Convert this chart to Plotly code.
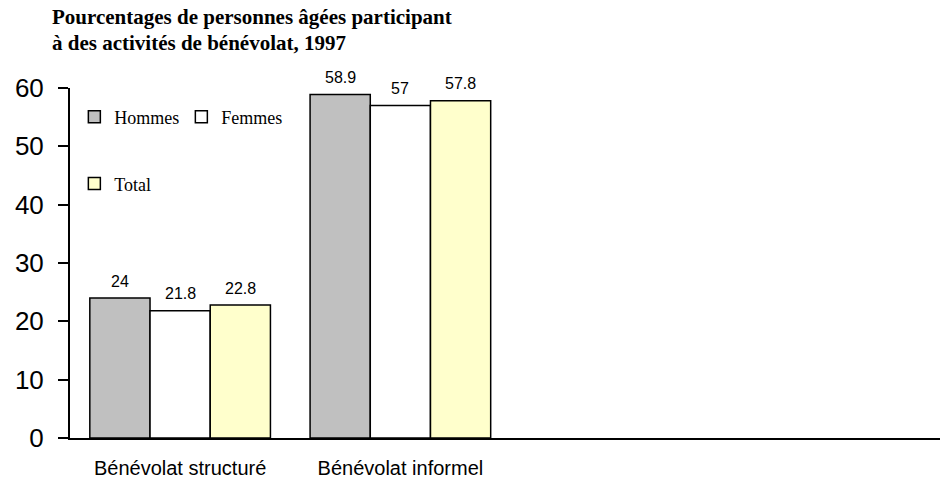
import plotly.graph_objects as go

categories = ["Bénévolat structuré", "Bénévolat informel", " ", "  "]
hommes = [24, 58.9]
femmes = [21.8, 57]
total = [22.8, 57.8]
series_names = ["Hommes", "Femmes", "Total"]
colors = ["#C0C0C0", "#FFFFFF", "#FFFFCC"]
title_lines = ["Pourcentages de personnes âgées participant",
               "à des activités de bénévolat, 1997"]

fig = go.Figure()
for name, vals, col, lg in zip(series_names, [hommes, femmes, total], colors,
                               ["legend", "legend", "legend2"]):
    fig.add_trace(go.Bar(
        x=categories[:len(vals)], y=vals, name=name,
        marker=dict(color=col, line=dict(color="black", width=1.5)),
        legend=lg,
    ))

# value labels above bars
offsets = [-1, 0, 1]
for i, vals in enumerate([hommes, femmes, total]):
    for j, v in enumerate(vals):
        fig.add_annotation(
            x=j + offsets[i] * 0.273, y=v, xref="x", yref="y",
            text=f"{v:g}", showarrow=False, yshift=17,
            font=dict(family="Liberation Sans, Arial", size=16, color="black"),
        )

# title (two lines)
for k, line in enumerate(title_lines):
    fig.add_annotation(
        x=50, y=31 + 26 * k, xref="paper", yref="paper",
        text=f"<b>{line}</b>", showarrow=False, xanchor="left", yanchor="bottom",
        font=dict(family="Liberation Serif, Times New Roman", size=21, color="black"),
    )

fig.update_layout(
    width=943, height=478,
    margin=dict(l=70, r=3, t=88, b=40, autoexpand=False),
    paper_bgcolor="white", plot_bgcolor="white",
    barmode="group", bargap=0.18, bargroupgap=0,
    legend=dict(x=0.005, y=0.917, xanchor="left", yanchor="middle", orientation="h",
                font=dict(family="Liberation Serif, Times New Roman", size=18, color="black"),
                bgcolor="rgba(0,0,0,0)", itemwidth=30, entrywidth=62, traceorder="normal"),
    legend2=dict(x=0.005, y=0.726, xanchor="left", yanchor="middle", orientation="h",
                 font=dict(family="Liberation Serif, Times New Roman", size=18, color="black"),
                 bgcolor="rgba(0,0,0,0)", itemwidth=30),
    showlegend=True,
)

# convert title pixel positions to paper coords
plot_h = 478 - 88 - 40
plot_w = 943 - 70 - 3
for ann in fig.layout.annotations:
    if ann.xref == "paper":
        px_x, px_y = ann.x, ann.y
        ann.x = (px_x - 70) / plot_w
        ann.y = (478 - 40 - px_y) / plot_h

fig.update_xaxes(
    type="category", categoryorder="array", categoryarray=categories,
    range=[-0.5, 3.45], showline=True, linecolor="black", linewidth=2,
    ticks="", showgrid=False, zeroline=False, automargin=False,
    tickfont=dict(family="Liberation Sans, Arial", size=20, color="black"),
    ticklabelstandoff=11,
)
fig.update_yaxes(
    range=[0, 60], dtick=10, showline=True, linecolor="black", linewidth=2,
    ticks="outside", ticklen=10, tickwidth=2, tickcolor="black",
    showgrid=False, zeroline=False, automargin=False,
    tickfont=dict(family="Liberation Sans, Arial", size=26, color="black"),
    ticklabelstandoff=9,
)

fig.write_html("out.html")
